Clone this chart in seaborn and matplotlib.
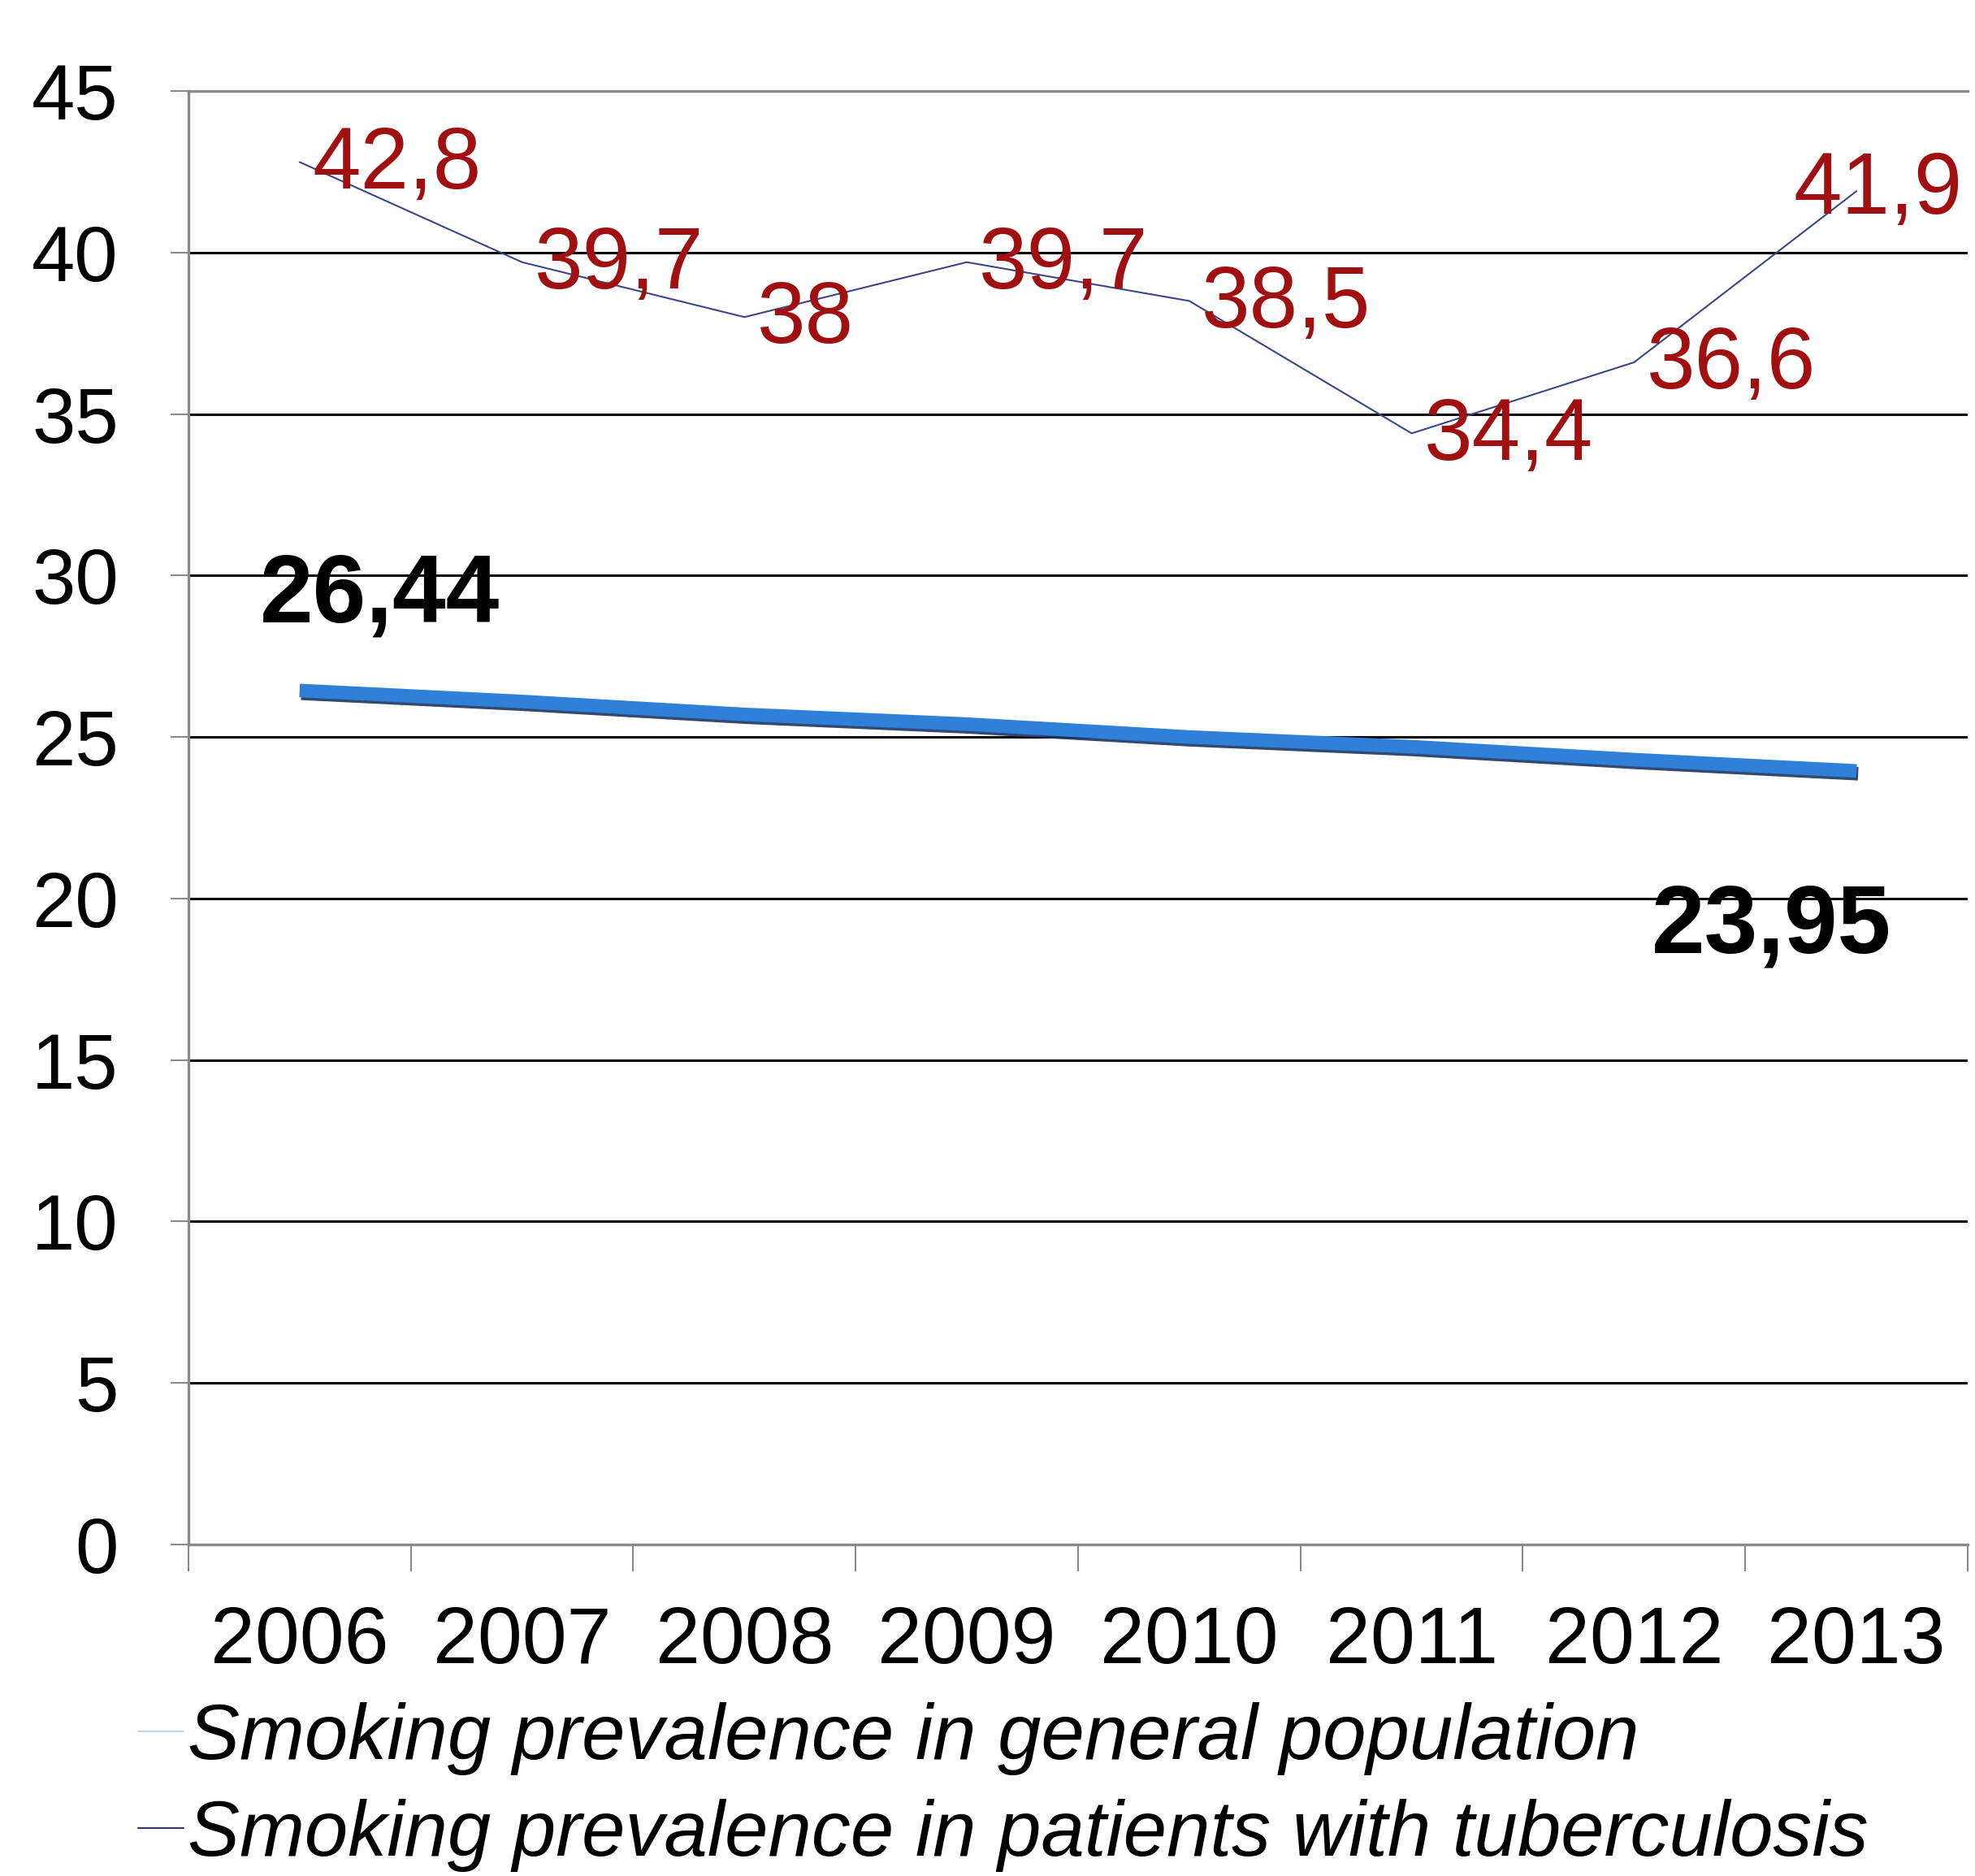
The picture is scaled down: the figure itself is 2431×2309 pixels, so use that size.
import numpy as np
import pandas as pd
import matplotlib
matplotlib.use("Agg")
import matplotlib.pyplot as plt
import matplotlib.patheffects as pe
from matplotlib.lines import Line2D
import seaborn as sns

# data
years = ["2006", "2007", "2008", "2009", "2010", "2011", "2012", "2013"]
tb_prev = [42.8, 39.7, 38.0, 39.7, 38.5, 34.4, 36.6, 41.9]
tb_labels = ["42,8", "39,7", "38", "39,7", "38,5", "34,4", "36,6", "41,9"]
gen_prev = [26.44, 26.1, 25.7, 25.4, 25.0, 24.7, 24.3, 23.95]
gen_labels = ["26,44", "23,95"]
y_ticks = [0, 5, 10, 15, 20, 25, 30, 35, 40, 45]
legend_names = ["Smoking prevalence in general population",
                "Smoking prevalence in patients with tuberculosis"]

df = pd.DataFrame({"year": years, "tb": tb_prev, "gen": gen_prev})

sns.set_theme(style="white")
plt.rcParams["font.family"] = ["Liberation Sans", "DejaVu Sans"]

fig = plt.figure(figsize=(24.31, 23.09), dpi=100)
ax = fig.add_axes([0.0954, 0.1767, 0.9009, 0.7748])

# general population - thick blue line with a dark shadow
sns.lineplot(data=df, x="year", y="gen", ax=ax, color="#2f80d8", linewidth=12,
             solid_capstyle="butt", sort=False, zorder=3,
             path_effects=[pe.SimpleLineShadow(offset=(1.5, -2.5), shadow_color="#1c3560", alpha=0.9),
                           pe.Normal()])
# tuberculosis patients - thin navy line
sns.lineplot(data=df, x="year", y="tb", ax=ax, color="#3a4688", linewidth=1.5,
             sort=False, zorder=4)

# value labels
for i, (v, lab) in enumerate(zip(tb_prev, tb_labels)):
    if i == len(tb_prev) - 1:
        off = (-56, 0)
    else:
        off = (11, -3)
    ax.annotate(lab, (i, v), xytext=off, textcoords="offset points",
                ha="left", va="center", fontsize=77, color="#a01010", zorder=5)

ax.annotate(gen_labels[0], (0, gen_prev[0]), xytext=(71, 83), textcoords="offset points",
            ha="center", va="center", fontsize=85, fontweight="bold", color="black")
ax.annotate(gen_labels[1], (len(years) - 1, gen_prev[-1]), xytext=(-75, -139),
            textcoords="offset points", ha="center", va="center", fontsize=85,
            fontweight="bold", color="black")

ax.set_xlim(-0.5, len(years) - 0.5)
ax.set_ylim(0, 45)
ax.set_yticks(y_ticks)
ax.set_xlabel("")
ax.set_ylabel("")

ax.yaxis.grid(True, color="black", linewidth=2.2)
ax.set_axisbelow(True)

for side in ["top", "bottom", "left"]:
    ax.spines[side].set_visible(True)
    ax.spines[side].set_color("#8a8a8a")
    ax.spines[side].set_linewidth(2.4)
ax.spines["right"].set_visible(False)

ax.set_xticks(range(len(years)))
ax.set_xticklabels(years)
ax.set_xticks(np.arange(-0.5, len(years), 1.0), minor=True)
ax.tick_params(axis="x", which="major", length=0, pad=54, labelsize=71, labelcolor="black")
ax.tick_params(axis="x", which="minor", length=24, width=1.5, color="#8a8a8a", direction="out", bottom=True)
ax.tick_params(axis="y", which="major", length=16, width=1.5, color="#8a8a8a", direction="out",
               left=True, pad=46, labelsize=69, labelcolor="black")

handles = [Line2D([], [], color="#bcd3ea", linewidth=1.5),
           Line2D([], [], color="#2a3470", linewidth=1.5)]
fig.legend(handles, legend_names, loc="upper left", bbox_to_anchor=(0.070, 0.0927),
           frameon=False, prop={"style": "italic", "size": 69}, labelcolor="black",
           handlelength=0.58, handletextpad=0.05, labelspacing=0.30, borderpad=0,
           borderaxespad=0)

fig.savefig("out.png", dpi=100, facecolor="white")
